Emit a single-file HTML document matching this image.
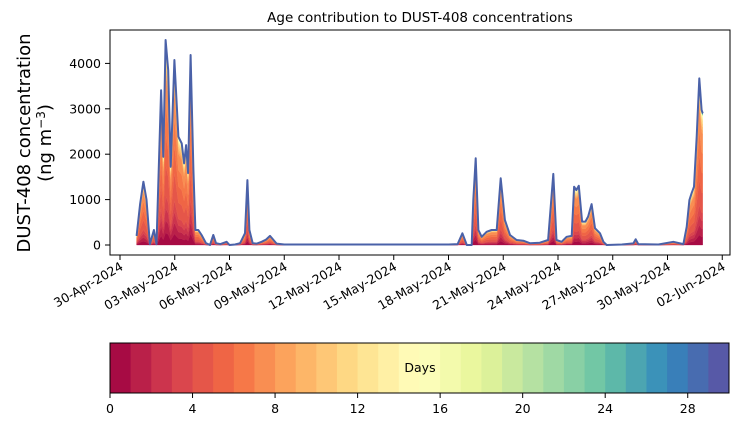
<!DOCTYPE html>
<html><head><meta charset="utf-8"><style>
html,body{margin:0;padding:0;background:#fff;}
svg{display:block;font-family:"DejaVu Sans","Liberation Sans",sans-serif;}
</style></head><body>
<svg id="chart" width="739" height="425" viewBox="0 0 739 425" xmlns="http://www.w3.org/2000/svg">
<text x="420" y="22" font-size="13.5" text-anchor="middle">Age contribution to DUST-408 concentrations</text>
<g font-size="18" text-anchor="middle">
<text transform="translate(30,143) rotate(-90)">DUST-408 concentration</text>
<text transform="translate(51,143) rotate(-90)">(ng m<tspan font-size="12" dy="-6">−3</tspan><tspan dy="6">)</tspan></text>
</g>
<g id="plot"></g>
<rect x="110" y="30" width="620" height="225" fill="none" stroke="#000" stroke-width="1"/>
<g id="yaxis" font-size="12.5" text-anchor="end"></g>
<g id="xaxis" font-size="12.5" text-anchor="end"></g>
<g id="cbar"></g>
</svg>
<script>
const times=[0.91,1.1,1.28,1.45,1.64,1.86,2.0,2.25,2.37,2.5,2.64,2.78,2.98,3.2,3.38,3.51,3.62,3.73,3.87,4.02,4.13,4.29,4.47,4.71,4.93,5.11,5.26,5.5,5.84,6.0,6.3,6.58,6.85,6.98,7.09,7.27,7.5,7.76,8.0,8.22,8.58,9.0,10,11,12,13,14,15,16,17,18,18.5,18.76,19.0,19.27,19.36,19.49,19.64,19.82,20.09,20.36,20.64,20.86,21.09,21.37,21.73,22.1,22.46,23.0,23.46,23.74,23.92,24.2,24.47,24.75,24.88,25.0,25.14,25.32,25.5,25.65,25.84,26.03,26.3,26.49,26.67,27.5,28.13,28.26,28.4,29.5,30.32,30.87,31.05,31.2,31.32,31.45,31.6,31.74,31.87,31.93];
const totals=[200,900,1395,1000,20,330,20,3410,1945,4515,3850,1725,4075,2385,2240,1800,2200,1585,4185,1660,330,330,220,40,0,220,40,20,70,0,10,40,260,1430,330,40,30,70,120,200,30,10,10,10,10,10,10,10,10,10,10,20,257,0,0,990,1910,330,180,290,330,330,1470,550,220,110,95,40,50,110,1565,110,70,180,200,1285,1210,1305,515,515,625,900,370,257,70,0,10,35,125,20,10,70,20,400,990,1140,1285,2390,3670,2975,2900];
const binFractions=[0.06,0.06,0.06,0.06,0.15,0.15,0.15,0.15,0.025,0.025,0.025,0.025,0.01,0.01,0.01,0.01,0.0015,0.0015,0.0015,0.0015,0.0015,0.0015,0.0015,0.0015,0.0015,0.0015,0.0015,0.0015,0.0015,0.0015];
const yTicks=[0,1000,2000,3000,4000];
const xTickDays=[0,3,6,9,12,15,18,21,24,27,30,33];
const xTickLabels=["30-Apr-2024","03-May-2024","06-May-2024","09-May-2024","12-May-2024","15-May-2024","18-May-2024","21-May-2024","24-May-2024","27-May-2024","30-May-2024","02-Jun-2024"];
const cbarTicks=[0,4,8,12,16,20,24,28];
const NS="http://www.w3.org/2000/svg";
const X=d=>120+d*18.25;
const Y=v=>245-v*0.0454;
const anchors=["#9e0142","#d53e4f","#f46d43","#fdae61","#fee08b","#ffffbf","#e6f598","#abdda4","#66c2a5","#3288bd","#5e4fa2"];
function spectral(t){const p=t*10,i=Math.min(9,Math.floor(p)),f=p-i;const a=anchors[i],b=anchors[i+1];const c=k=>Math.round(parseInt(a.substr(k,2),16)*(1-f)+parseInt(b.substr(k,2),16)*f);return `rgb(${c(1)},${c(3)},${c(5)})`;}
function mk(tag,attrs,parent){const e=document.createElementNS(NS,tag);for(const k in attrs)e.setAttribute(k,attrs[k]);parent.appendChild(e);return e;}
const plot=document.getElementById('plot');
let cum=times.map(()=>0);
for(let b=0;b<30;b++){
  const lower=cum.slice();
  cum=cum.map((c,i)=>c+totals[i]*binFractions[b]);
  let d="M"+times.map((t,i)=>X(t).toFixed(1)+","+Y(cum[i]).toFixed(1)).join("L");
  for(let i=times.length-1;i>=0;i--)d+="L"+X(times[i]).toFixed(1)+","+Y(lower[i]).toFixed(1);
  const p=mk('path',{d:d+"Z",fill:spectral((b+0.5)/30),stroke:spectral((b+0.5)/30),'stroke-width':0.3},plot);
  
  
}
const line=mk('path',{d:"M"+times.map((t,i)=>X(t).toFixed(1)+","+Y(totals[i]).toFixed(1)).join("L"),fill:"none",stroke:"#4a61a8","stroke-width":2,"stroke-linejoin":"round"},plot);


const ya=document.getElementById('yaxis');
yTicks.forEach(v=>{
  const l=mk('line',{x1:105,x2:110,y1:Y(v),y2:Y(v),stroke:"#000"},ya);
  
  
  const t=mk('text',{x:101,y:Y(v)+4.5},ya);t.textContent=v;
  
  
});
const xa=document.getElementById('xaxis');
xTickDays.forEach((d,i)=>{
  const x=X(d);
  const l=mk('line',{x1:x,x2:x,y1:255,y2:260,stroke:"#000"},xa);
  
  
  const t=mk('text',{transform:`translate(${x+4},${269}) rotate(-30)`},xa);t.textContent=xTickLabels[i];
  
  
});
const cb=document.getElementById('cbar');
const CX=v=>110+v*(619/30);
for(let b=0;b<30;b++){
  const r=mk('rect',{x:CX(b),y:343,width:619/30+0.5,height:50,fill:spectral((b+0.5)/30)},cb);
  
  
}
mk('rect',{x:110,y:343,width:619,height:50,fill:"none",stroke:"#000"},cb);
const dl=mk('text',{x:420,y:372,'font-size':12.5,'text-anchor':'middle'},cb);dl.textContent="Days";


cbarTicks.forEach(v=>{
  const l=mk('line',{x1:CX(v),x2:CX(v),y1:393,y2:398,stroke:"#000"},cb);
  
  
  const t=mk('text',{x:CX(v),y:413,'font-size':12.5,'text-anchor':'middle'},cb);t.textContent=v;
  
  
});
</script>
</body></html>
